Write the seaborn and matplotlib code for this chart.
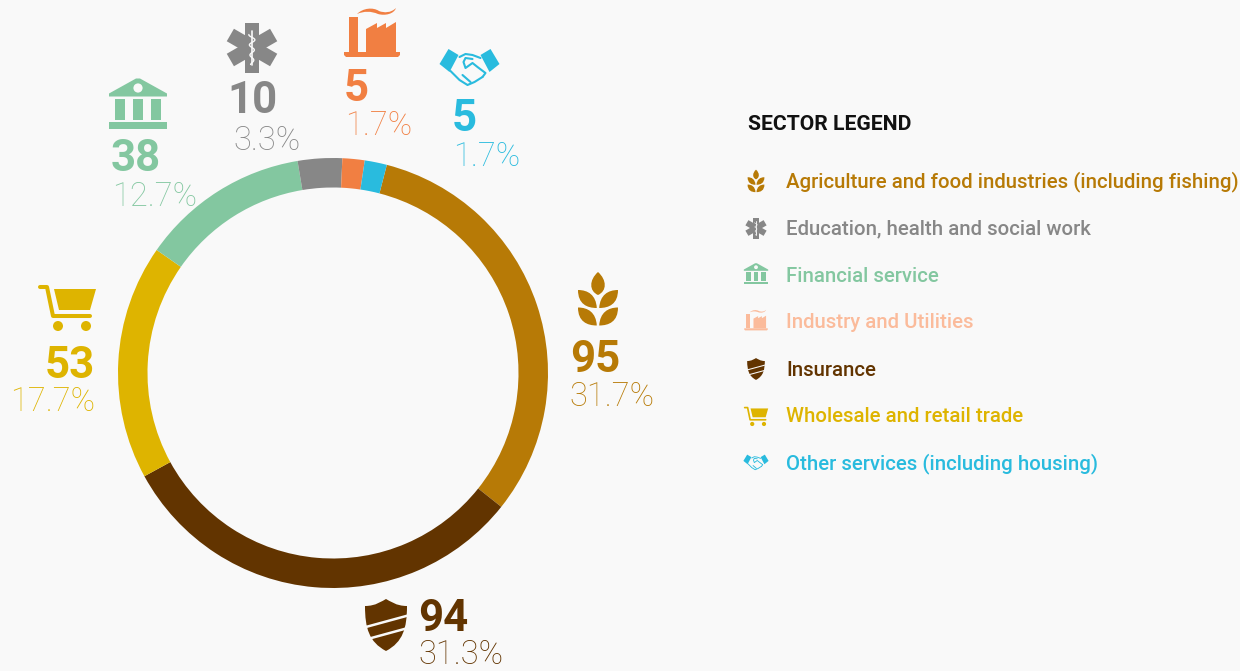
import seaborn as sns
import matplotlib
matplotlib.use('Agg')
import matplotlib.pyplot as plt
from matplotlib.patches import Circle, PathPatch, Polygon, Rectangle
from matplotlib.path import Path
import numpy as np

# chart values, clockwise from the gold slice
sectors = ['Agriculture and food industries (including fishing)', 'Insurance',
           'Wholesale and retail trade', 'Financial service',
           'Education, health and social work', 'Industry and Utilities',
           'Other services (including housing)']
counts = [95, 94, 53, 38, 10, 5, 5]
shares = ['31.7%', '31.3%', '17.7%', '12.7%', '3.3%', '1.7%', '1.7%']
slice_colors = ['#B77A06', '#623400', '#DEB400', '#83C7A0', '#878787', '#F17F42', '#29BBDE']

legend_title = 'SECTOR LEGEND'
legend_order = [0, 4, 3, 5, 1, 2, 6]
legend_colors = ['#B77A06', '#878787', '#83C7A0', '#FBBB9B', '#623400', '#DEB400', '#29BBDE']
legend_icons = ['wheat', 'star', 'bank', 'factory', 'shield', 'cart', 'hands']

BG = '#F9F9F9'
W, H = 1240, 671

sns.set_theme(style='white')
plt.rcParams['font.family'] = ['Roboto', 'DejaVu Sans']

fig = plt.figure(figsize=(W / 100, H / 100), dpi=100, facecolor=BG)

# the ring
cx, cy, r_out = 333, 373, 215
ax_pie = fig.add_axes([(cx - r_out) / W, 1 - (cy + r_out) / H, 2 * r_out / W, 2 * r_out / H])
ax_pie.pie(counts, colors=sns.color_palette(slice_colors), startangle=75.5, counterclock=False,
           radius=1, wedgeprops=dict(width=29.5 / r_out, linewidth=0))
ax_pie.set_xlim(-1, 1)
ax_pie.set_ylim(-1, 1)
ax_pie.set_aspect('equal')

# overlay in pixel coordinates for the labels and icons
ax = fig.add_axes([0, 0, 1, 1], facecolor='none')
ax.set_xlim(0, W)
ax.set_ylim(H, 0)
ax.axis('off')


def add_path(verts, codes, x, y, s, color, **kw):
    pts = np.array(verts, dtype=float) * s + [x, y]
    ax.add_patch(PathPatch(Path(pts, codes), facecolor=color, edgecolor='none', **kw))


def add_poly(verts, x, y, s, color, **kw):
    pts = np.array(verts, dtype=float) * s + [x, y]
    ax.add_patch(Polygon(pts, closed=True, facecolor=color, edgecolor='none', **kw))


def wheat(x, y, s, c):
    M, C, Z = Path.MOVETO, Path.CURVE4, Path.CLOSEPOLY
    add_path([(0, -27), (9, -19), (9, -8), (0, -4), (-9, -8), (-9, -19), (0, -27), (0, -27)],
             [M, C, C, C, C, C, C, Z], x, y, s, c)
    for dy in (0, 17.5):
        for sign in (-1, 1):
            leaf = [(sign * 20, -9 + dy), (sign * 10, -9 + dy), (sign * 2, -4 + dy), (sign * 1.2, 9 + dy),
                    (sign * 11, 9 + dy), (sign * 20, 5 + dy), (sign * 20, -9 + dy), (sign * 20, -9 + dy)]
            add_path(leaf, [M, C, C, C, C, C, C, Z], x, y, s, c)


def star(x, y, s, c):
    for ang in (0, 60, 120):
        t = np.radians(ang)
        rot = np.array([[np.cos(t), -np.sin(t)], [np.sin(t), np.cos(t)]])
        rect = np.array([(-7.2, -25), (7.2, -25), (7.2, 25), (-7.2, 25)]) @ rot.T
        add_poly(rect, x, y, s, c)
    # staff and snake
    lw = 1.0 * s
    ax.plot([x, x], [y - 17 * s, y + 17 * s], color=BG, lw=lw + 0.2, solid_capstyle='round')
    t = np.linspace(-13, 17, 40)
    ax.plot(x + s * 3.2 * np.sin(t * 0.62) * (1 - (t + 13) / 60), y + s * t, color=BG, lw=lw)


def bank(x, y, s, c):
    # roof with round hole
    add_poly([(-29, -13), (-2, -28), (2, -28), (29, -13), (29, -10), (-29, -10)], x, y, s, c)
    ax.add_patch(Circle((x, y - 18.5 * s), 4.6 * s, facecolor=BG, edgecolor='none'))
    for px in (-18, 0, 18):
        ax.add_patch(Rectangle((x + (px - 5) * s, y - 7.5 * s), 10 * s, 21 * s, facecolor=c, edgecolor='none'))
    ax.add_patch(Rectangle((x - 29 * s, y + 15.5 * s), 58 * s, 6.5 * s, facecolor=c, edgecolor='none'))


def factory(x, y, s, c):
    M, C, Z = Path.MOVETO, Path.CURVE4, Path.CLOSEPOLY
    add_poly([(-28, 15), (28, 15), (28, 18), (26, 20), (-26, 20), (-28, 18)], x, y, s, c)
    add_poly([(-23, -20), (-14, -20), (-14, 15), (-23, 15)], x, y, s, c)
    add_poly([(-6, 15), (-6, -8), (5, -14), (5, -9), (14, -14), (14, -9), (24, -15), (24, 15)], x, y, s, c)
    smoke = [(-15, -23), (-9, -29), (1, -30), (7, -26), (12, -24), (19, -24), (24, -29),
             (22, -23), (13, -21), (6, -23), (-1, -26), (-8, -26), (-15, -23), (-15, -23)]
    add_path(smoke, [M, C, C, C, C, C, C, C, C, C, C, C, C, Z], x, y, s, c)


def shield(x, y, s, c):
    M, C, Z = Path.MOVETO, Path.CURVE4, Path.CLOSEPOLY
    verts = [(-21, -19), (-10, -19), (-4, -24), (0, -26), (4, -24), (10, -19), (21, -19),
             (21, 3), (17, 17), (0, 26), (-17, 17), (-21, 3), (-21, -19), (-21, -19)]
    add_path(verts, [M, C, C, C, C, C, C, C, C, C, C, C, C, Z], x, y, s, c)
    for dy in (0, 12.5):
        ax.plot([x - 22 * s, x + 22 * s], [y + (2.5 + dy) * s, y + (-9.5 + dy) * s], color=BG, lw=1.8 * s,
                solid_capstyle='butt')


def cart(x, y, s, c):
    lw = 2.9 * s
    ax.plot(np.array([-27, -20, -14, 23]) * s + x, np.array([-20, -20, 9, 9]) * s + y, color=c, lw=lw,
            solid_capstyle='round', solid_joinstyle='round')
    add_poly([(-13, -18), (29, -18), (23, 3), (-8, 3)], x, y, s, c)
    for px in (-9, 19):
        ax.add_patch(Circle((x + px * s, y + 19 * s), 5 * s, facecolor=c, edgecolor='none'))


def hands(x, y, s, c):
    # cuffs
    for sign in (-1, 1):
        cuff = [(sign * 21, -20), (sign * 11, -14), (sign * 20, 3), (sign * 30, -5)]
        add_poly(cuff, x, y, s, c)
    lw = 1.5 * s
    lines = [[(-10, -12), (-4, -15), (3, -14), (11, -11)],
             [(3, -10), (-4, -11), (-6, -7), (-4, -1), (3, -6), (8, -2), (16, 4), (13, 8)],
             [(-19, 2), (-10, 11), (-2, 16), (5, 13), (13, 8)],
             [(-7, 6), (1, 13)]]
    for ln in lines:
        pts = np.array(ln) * s + [x, y]
        ax.plot(pts[:, 0], pts[:, 1], color=c, lw=lw, solid_joinstyle='round', solid_capstyle='round')


icon_funcs = dict(wheat=wheat, star=star, bank=bank, factory=factory, shield=shield, cart=cart, hands=hands)


def callout(i, xn, yn, xp, yp, ha='left'):
    ax.text(xn, yn, str(counts[i]), fontsize=31.5, fontweight='bold', color=slice_colors[i], ha=ha, va='center')
    ax.text(xp, yp, shares[i], fontsize=23.5, fontweight='light', color=slice_colors[i], ha=ha, va='center')


# callouts around the ring: icon, count, share
wheat(598, 299, 1, slice_colors[0])
callout(0, 570, 359.5, 569, 397)

shield(386, 625, 1, slice_colors[1])
callout(1, 418, 619, 418, 655)

cart(67, 307, 1, slice_colors[2])
callout(2, 95, 366, 95, 402, ha='right')

bank(138, 106.5, 1, slice_colors[3])
callout(3, 111, 159, 112, 197)

star(252, 47.5, 1, slice_colors[4])
callout(4, 227, 101, 233.5, 141)

factory(372, 37, 1, slice_colors[5])
callout(5, 344, 89, 345.5, 126)

hands(469.5, 69, 1, slice_colors[6])
callout(6, 452, 119, 453.5, 157)

# legend column
ax.text(748, 125, legend_title, fontsize=15.2, fontweight='bold', color='#111111', ha='left', va='center')
for i, (idx, col, ic) in enumerate(zip(legend_order, legend_colors, legend_icons)):
    y = 181 + i * 47
    icon_funcs[ic](756, y, 0.42, col)
    ax.text(786, y + 1, sectors[idx], fontsize=14.65, fontweight='medium', color=col, ha='left', va='center')

fig.savefig('out.png', dpi=100, facecolor=BG)
